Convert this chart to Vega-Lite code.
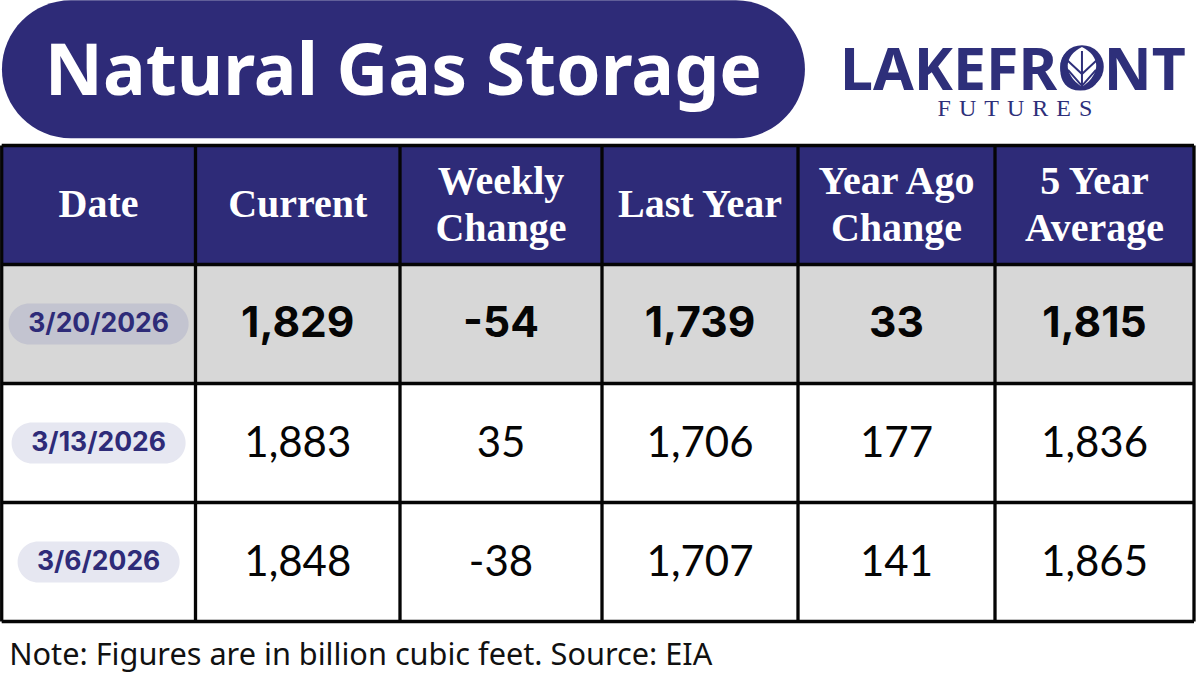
{
  "$schema": "https://vega.github.io/schema/vega-lite/v6.json",
  "description": "Natural gas storage table, weekly figures in billion cubic feet.",
  "width": 1200,
  "height": 675,
  "autosize": {"type": "fit", "contains": "padding"},
  "padding": 0,
  "background": "white",
  "config": {
    "view": {"stroke": null},
    "locale": {"number": {"decimal": ".", "thousands": ",", "grouping": [3], "currency": ["$", ""], "minus": "-"}}
  },
  "datasets": {
    "bands": [
      {"row": 0, "rowFrom": -0.5, "rowTo": 0.5, "colFrom": 0.5, "colTo": 6.5, "kind": "header"},
      {"row": 1, "rowFrom": 0.5, "rowTo": 1.5, "colFrom": 0.5, "colTo": 6.5, "kind": "latest"}
    ],
    "gridlines": [
      {"colFrom": 0.5, "colTo": 0.5, "rowFrom": -0.5, "rowTo": 3.5},
      {"colFrom": 1.5, "colTo": 1.5, "rowFrom": -0.5, "rowTo": 3.5},
      {"colFrom": 2.5, "colTo": 2.5, "rowFrom": -0.5, "rowTo": 3.5},
      {"colFrom": 3.5, "colTo": 3.5, "rowFrom": -0.5, "rowTo": 3.5},
      {"colFrom": 4.5, "colTo": 4.5, "rowFrom": -0.5, "rowTo": 3.5},
      {"colFrom": 5.5, "colTo": 5.5, "rowFrom": -0.5, "rowTo": 3.5},
      {"colFrom": 6.5, "colTo": 6.5, "rowFrom": -0.5, "rowTo": 3.5},
      {"colFrom": 0.5, "colTo": 6.5, "rowFrom": -0.5, "rowTo": -0.5},
      {"colFrom": 0.5, "colTo": 6.5, "rowFrom": 0.5, "rowTo": 0.5},
      {"colFrom": 0.5, "colTo": 6.5, "rowFrom": 1.5, "rowTo": 1.5},
      {"colFrom": 0.5, "colTo": 6.5, "rowFrom": 2.5, "rowTo": 2.5},
      {"colFrom": 0.5, "colTo": 6.5, "rowFrom": 3.5, "rowTo": 3.5}
    ],
    "headers": [
      {"row": 0, "col": 1, "label": "Date"},
      {"row": 0, "col": 2, "label": "Current"},
      {"row": 0, "col": 3, "label": "Weekly\nChange"},
      {"row": 0, "col": 4, "label": "Last Year"},
      {"row": 0, "col": 5, "label": "Year Ago\nChange"},
      {"row": 0, "col": 6, "label": "5 Year\nAverage"}
    ],
    "dates": [
      {"row": 1, "col": 1, "date": "3/20/2026"},
      {"row": 2, "col": 1, "date": "3/13/2026"},
      {"row": 3, "col": 1, "date": "3/6/2026"}
    ],
    "cells": [
      {"row": 1, "col": 2, "value": 1829},
      {"row": 1, "col": 3, "value": -54},
      {"row": 1, "col": 4, "value": 1739},
      {"row": 1, "col": 5, "value": 33},
      {"row": 1, "col": 6, "value": 1815},
      {"row": 2, "col": 2, "value": 1883},
      {"row": 2, "col": 3, "value": 35},
      {"row": 2, "col": 4, "value": 1706},
      {"row": 2, "col": 5, "value": 177},
      {"row": 2, "col": 6, "value": 1836},
      {"row": 3, "col": 2, "value": 1848},
      {"row": 3, "col": 3, "value": -38},
      {"row": 3, "col": 4, "value": 1707},
      {"row": 3, "col": 5, "value": 141},
      {"row": 3, "col": 6, "value": 1865}
    ],
    "masthead": [
      {"row": -1.14, "col": 2.517, "label": "Natural Gas Storage"}
    ],
    "logo": [
      {"row": -1.16, "col": 5.59, "label": "LAKEFRONT"}
    ],
    "logoSub": [
      {"row": -0.807, "col": 5.6, "label": "F\u2004U\u2004T\u2004U\u2004R\u2004E\u2004S"}
    ],
    "leaf": [
      {"row": -1.16, "col": 5.937}
    ],
    "note": [
      {"row": 3.79, "col": 0.5, "label": "Note: Figures are in billion cubic feet. Source: EIA"}
    ]
  },
  "encoding": {
    "x": {
      "field": "col",
      "type": "quantitative",
      "axis": null,
      "scale": {
        "domain": [0.5, 1.5, 2.5, 3.5, 4.5, 5.5, 6.5, 6.525],
        "range": [1.7, 195.5, 400, 602, 798, 995, 1194, 1200],
        "nice": false,
        "zero": false
      }
    },
    "y": {
      "field": "row",
      "type": "quantitative",
      "axis": null,
      "scale": {"domain": [-1.7227, 3.9496], "range": [0, 675], "nice": false, "zero": false}
    }
  },
  "layer": [
    {
      "data": {"name": "bands"},
      "mark": {"type": "rect"},
      "encoding": {
        "x": {"field": "colFrom", "type": "quantitative"},
        "x2": {"field": "colTo"},
        "y": {"field": "rowFrom", "type": "quantitative"},
        "y2": {"field": "rowTo"},
        "color": {
          "field": "kind",
          "type": "nominal",
          "legend": null,
          "scale": {"domain": ["header", "latest"], "range": ["#2E2B78", "#D7D7D7"]}
        }
      }
    },
    {
      "data": {"name": "gridlines"},
      "mark": {"type": "rule", "color": "#050505", "strokeWidth": 3.3},
      "encoding": {
        "x": {"field": "colFrom", "type": "quantitative"},
        "x2": {"field": "colTo"},
        "y": {"field": "rowFrom", "type": "quantitative"},
        "y2": {"field": "rowTo"}
      }
    },
    {
      "data": {"name": "masthead"},
      "mark": {"type": "rect", "width": 803, "height": 138, "cornerRadius": 69, "color": "#2E2B78"}
    },
    {
      "data": {"name": "masthead"},
      "mark": {"type": "text", "font": "Noto Sans", "fontWeight": "bold", "fontSize": 71.5, "color": "white", "align": "center", "baseline": "middle", "dy": 5},
      "encoding": {"text": {"field": "label"}}
    },
    {
      "data": {"name": "logo"},
      "mark": {"type": "text", "font": "Noto Sans", "fontWeight": "bold", "fontSize": 59, "color": "#2E2F7A", "align": "center", "baseline": "middle", "dy": 5},
      "encoding": {"text": {"field": "label"}}
    },
    {
      "data": {"name": "logoSub"},
      "mark": {"type": "text", "font": "Liberation Serif", "fontSize": 24, "color": "#2E2F7A", "align": "center", "baseline": "middle"},
      "encoding": {"text": {"field": "label"}}
    },
    {
      "data": {"name": "leaf"},
      "mark": {"type": "point", "shape": "circle", "filled": true, "opacity": 1, "color": "#2E2F7A", "size": 1900}
    },
    {
      "data": {"name": "leaf"},
      "mark": {"type": "point", "shape": "M 0 -1 C 0.9 -0.55 1 0.3 0 1 C -1 0.3 -0.9 -0.55 0 -1 Z", "filled": true, "opacity": 1, "color": "white", "size": 1600}
    },
    {
      "data": {"name": "leaf"},
      "mark": {"type": "point", "shape": "M 0 -0.8 L 0 1 M 0 0.95 L -0.7 0.15 M 0 0.95 L 0.7 0.15 M 0 0.35 L -0.75 -0.35 M 0 0.35 L 0.75 -0.35", "filled": false, "opacity": 1, "color": "#2E2F7A", "strokeWidth": 2, "size": 1600}
    },
    {
      "data": {"name": "headers"},
      "transform": [{"filter": "indexof(datum.label, '\\n') < 0"}],
      "mark": {"type": "text", "font": "Liberation Serif", "fontWeight": "bold", "fontSize": 40, "color": "white", "align": "center", "baseline": "middle"},
      "encoding": {"text": {"field": "label"}}
    },
    {
      "data": {"name": "headers"},
      "transform": [{"filter": "indexof(datum.label, '\\n') >= 0"}],
      "mark": {"type": "text", "font": "Liberation Serif", "fontWeight": "bold", "fontSize": 40, "color": "white", "align": "center", "baseline": "middle", "lineBreak": "\n", "lineHeight": 47, "dy": -23},
      "encoding": {"text": {"field": "label"}}
    },
    {
      "data": {"name": "dates"},
      "transform": [{"filter": "datum.row === 1"}],
      "mark": {"type": "rect", "width": 180, "height": 41, "cornerRadius": 20.5, "color": "#C3C4D0"}
    },
    {
      "data": {"name": "dates"},
      "transform": [{"filter": "datum.row === 2"}],
      "mark": {"type": "rect", "width": 174, "height": 41, "cornerRadius": 20.5, "color": "#E6E7F1"}
    },
    {
      "data": {"name": "dates"},
      "transform": [{"filter": "datum.row === 3"}],
      "mark": {"type": "rect", "width": 162, "height": 41, "cornerRadius": 20.5, "color": "#E6E7F1"}
    },
    {
      "data": {"name": "dates"},
      "mark": {"type": "text", "font": "Inter", "fontWeight": "bold", "fontSize": 26.5, "color": "#2E2B78", "align": "center", "baseline": "middle"},
      "encoding": {"text": {"field": "date"}}
    },
    {
      "data": {"name": "cells"},
      "transform": [{"filter": "datum.row === 1"}],
      "mark": {"type": "text", "font": "Inter", "fontWeight": "bold", "fontSize": 42.5, "color": "#050505", "align": "center", "baseline": "middle"},
      "encoding": {"text": {"field": "value", "type": "quantitative", "format": ","}}
    },
    {
      "data": {"name": "cells"},
      "transform": [{"filter": "datum.row > 1"}],
      "mark": {"type": "text", "font": "Lato", "fontSize": 42, "color": "#050505", "align": "center", "baseline": "middle", "dy": 1},
      "encoding": {"text": {"field": "value", "type": "quantitative", "format": ","}}
    },
    {
      "data": {"name": "note"},
      "mark": {"type": "text", "font": "Noto Sans", "fontSize": 30.7, "color": "#111111", "align": "left", "baseline": "middle", "dx": 7.5},
      "encoding": {"text": {"field": "label"}}
    }
  ]
}
